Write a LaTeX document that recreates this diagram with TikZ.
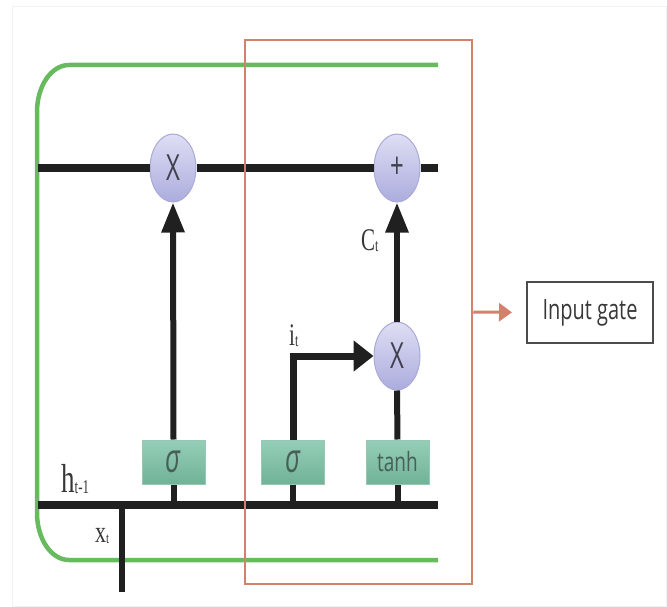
\documentclass[tikz,border=0pt]{standalone}
\usepackage{fontspec}
\usepackage{graphicx}
\setmainfont{Liberation Serif}
\newfontfamily\gatesans{Open Sans}
\usetikzlibrary{shapes.geometric,arrows.meta}

\definecolor{cellgreen}{RGB}{104,186,94}
\definecolor{gateorange}{RGB}{212,128,108}
\definecolor{wire}{RGB}{32,32,32}
\definecolor{optop}{RGB}{222,222,244}
\definecolor{opbot}{RGB}{172,172,222}
\definecolor{opedge}{RGB}{170,170,215}
\definecolor{acttop}{RGB}{150,206,184}
\definecolor{actbot}{RGB}{112,178,152}
\definecolor{actedge}{RGB}{150,200,180}
\definecolor{acttext}{RGB}{70,96,86}
\definecolor{optext}{RGB}{64,64,78}
\definecolor{labeltext}{RGB}{55,55,55}

% vertical stretch used by every text
\newcommand\stretchtext[2]{\scalebox{1}[#1]{#2}}

\tikzset{
  hwire/.style={draw=wire, line width=8pt},
  vwire/.style={draw=wire, line width=6pt},
  upflow/.style={vwire, -{Triangle[length=30pt,width=22pt]}},
  sideflow/.style={draw=wire, line width=7pt, -{Triangle[length=20pt,width=30pt]}},
  opnode/.style={ellipse, minimum width=46pt, minimum height=68pt, inner sep=0pt,
    top color=optop, bottom color=opbot, draw=opedge, line width=1pt,
    text=optext, font=\gatesans\fontsize{24}{24}\selectfont},
  actbox/.style={rectangle, minimum width=63pt, minimum height=44pt, inner sep=0pt,
    top color=acttop, bottom color=actbot, draw=actedge, line width=1pt,
    text=acttext},
  label/.style={inner sep=0pt, anchor=base west, text=labeltext},
  cellline/.style={draw=cellgreen, line width=4.5pt},
  gateframe/.style={draw=gateorange, line width=2.5pt, inner sep=0pt},
}

\begin{document}
\begin{tikzpicture}[x=1pt, y=-1pt]
\useasboundingbox (0,0) rectangle (667,607);
\draw[black!5, line width=1pt] (12,7) rectangle (666,606);

% cell state border (green)
\draw[cellline] (438,65) -- (69,65)
  .. controls (51.3,65) and (37,86) .. (37,112)
  -- (37,513)
  .. controls (37,539) and (51.3,560) .. (69,560) -- (438,560);

% coordinates on the wires
\coordinate (cleft) at (38,168);
\coordinate (cright) at (438,168);
\coordinate (hleft) at (38,505);
\coordinate (hright) at (438,505);
\coordinate (xin) at (122,592);
\coordinate (xjoin) at (122,505);

% operators
\node[opnode] (mulf) at (173,168) {\stretchtext{1.5}{X}};
\node[opnode] (add) at (397,168) {\stretchtext{1.5}{+}};
\node[opnode] (muli) at (397,356) {\stretchtext{1.5}{X}};

% activation layers
\node[actbox, font=\gatesans\itshape\fontsize{26}{26}\selectfont] (sigf) at (173.5,462) {\stretchtext{1.55}{σ}};
\node[actbox, font=\gatesans\itshape\fontsize{26}{26}\selectfont] (sigi) at (293,462) {\stretchtext{1.55}{σ}};
\node[actbox, font=\gatesans\fontsize{19}{19}\selectfont] (tanhc) at (397.5,462) {\stretchtext{1.4}{tanh}};

% cell state wire
\draw[hwire] (cleft) -- (mulf.west);
\draw[hwire] (mulf.east) -- (add.west);
\draw[hwire] (add.east) -- (cright);

% hidden state / input wire
\draw[hwire] (hleft) -- (hright);
\draw[vwire] (xin) -- (xjoin);

% layer inputs and outputs
\draw[vwire] (sigf.south) -- (sigf.south |- hright);
\draw[vwire] (sigi.south) -- (sigi.south |- hright);
\draw[vwire] (tanhc.south) -- (tanhc.south |- hright);
\draw[upflow] (sigf.north) -- (mulf.south);
\draw[sideflow] (sigi.north) |- (muli.west);
\draw[vwire] (tanhc.north) -- (muli.south);
\draw[upflow] (muli.north) -- (add.south);

% labels
\node[label, font=\fontsize{27}{27}\selectfont] (hlab) at (61,492)
  {\stretchtext{1.5}{h\raisebox{-1pt}{\fontsize{13}{13}\selectfont t-1}}};
\node[label, font=\fontsize{22}{22}\selectfont] (xlab) at (95,542)
  {\stretchtext{1.4}{x\raisebox{-1pt}{\fontsize{11}{11}\selectfont t}}};
\node[label, font=\fontsize{21}{21}\selectfont] (ilab) at (289,345)
  {\stretchtext{1.5}{i\raisebox{-1pt}{\fontsize{12}{12}\selectfont t}}};
\node[label, font=\fontsize{21}{21}\selectfont] (clab) at (361,250)
  {\stretchtext{1.5}{C\raisebox{-1pt}{\fontsize{12}{12}\selectfont t}}};

% input gate frame and its caption
\node[gateframe, minimum width=227pt, minimum height=544pt] (gate) at (358.5,312) {};
\node[draw=black!70, line width=2pt, minimum width=126pt, minimum height=61pt, inner sep=0pt,
  text=black!78, font=\gatesans\fontsize{20}{20}\selectfont] (caption) at (590,312.5)
  {\stretchtext{1.4}{Input gate}};
\draw[draw=gateorange, line width=3pt, -{Triangle[length=13pt,width=18pt]}, shorten >=14pt]
  (gate.east) -- (caption.west);
\end{tikzpicture}
\end{document}
